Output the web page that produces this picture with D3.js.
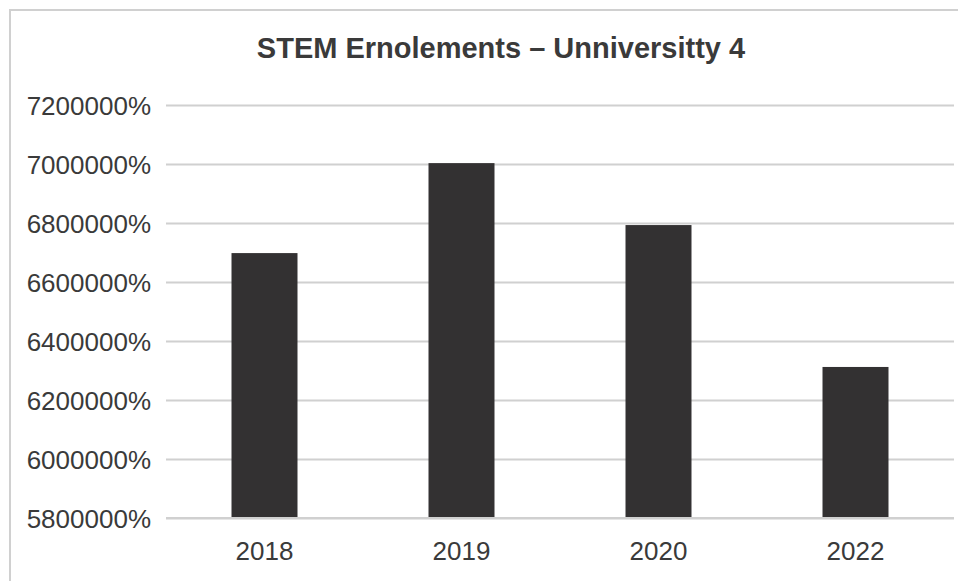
<!DOCTYPE html>
<html>
<head>
<meta charset="utf-8">
<script src="https://cdn.jsdelivr.net/npm/d3@7"></script>
<style>
  body { margin: 0; background: #fff; }
  svg text { font-family: "Liberation Sans", Arial, sans-serif; fill: #3a3a3a; }
</style>
</head>
<body>
<div id="chart"></div>
<script>
var years = ["2018", "2019", "2020", "2022"];
var enrolments = [6698000, 7003000, 6793000, 6312000];
var yTicks = [5800000, 6000000, 6200000, 6400000, 6600000, 6800000, 7000000, 7200000];

var svgWidth = 958;
var svgHeight = 581;

var margin = { top: 105, right: 4, bottom: 63, left: 166 };
var width = svgWidth - margin.left - margin.right;
var height = svgHeight - margin.top - margin.bottom;

var svg = d3.select("#chart")
    .append("svg")
    .attr("width", svgWidth)
    .attr("height", svgHeight);

// outer frame (runs off the right and bottom edges)
svg.append("rect")
    .attr("x", 10)
    .attr("y", 10)
    .attr("width", 1000)
    .attr("height", 700)
    .attr("fill", "none")
    .attr("stroke", "#d0d0d0")
    .attr("stroke-width", 2);

var chartGroup = svg.append("g")
    .attr("transform", `translate(${margin.left}, ${margin.top})`);

var data = years.map((y, i) => ({ year: y, value: enrolments[i] }));

var xScale = d3.scaleBand()
    .domain(years)
    .range([0, width])
    .paddingInner(0.665)
    .paddingOuter(0.3325);

var yScale = d3.scaleLinear()
    .domain([5800000, 7200000])
    .range([height, 0]);

// gridlines
var leftAxis = d3.axisLeft(yScale)
    .tickValues(yTicks)
    .tickSize(-width)
    .tickPadding(16)
    .tickFormat(d => d + "%");

var yAxisG = chartGroup.append("g").call(leftAxis);
yAxisG.select(".domain").remove();
yAxisG.selectAll("line").attr("stroke", "#d0d0d0").attr("stroke-width", 2);
yAxisG.selectAll("text")
    .style("font-size", "26px")
    .attr("x", -15)
    .attr("dy", "0.35em");

// bars
chartGroup.selectAll("rect.bar")
    .data(data)
    .enter()
    .append("rect")
    .attr("class", "bar")
    .attr("x", d => xScale(d.year))
    .attr("y", d => yScale(d.value))
    .attr("width", xScale.bandwidth())
    .attr("height", d => height - yScale(d.value))
    .attr("fill", "#333132");

// redraw baseline on top of bars
chartGroup.append("line")
    .attr("x1", 0)
    .attr("x2", width)
    .attr("y1", height)
    .attr("y2", height)
    .attr("stroke", "#d0d0d0")
    .attr("stroke-width", 2);

var bottomAxis = d3.axisBottom(xScale).tickSize(0).tickPadding(24);
var xAxisG = chartGroup.append("g")
    .attr("transform", `translate(0, ${height})`)
    .call(bottomAxis);
xAxisG.select(".domain").remove();
xAxisG.selectAll("text").style("font-size", "26px");

// title
svg.append("text")
    .attr("x", 501)
    .attr("y", 58)
    .attr("text-anchor", "middle")
    .style("font-size", "29px")
    .style("font-weight", "bold")
    .text("STEM Ernolements – Unniversitty 4");
</script>
</body>
</html>
